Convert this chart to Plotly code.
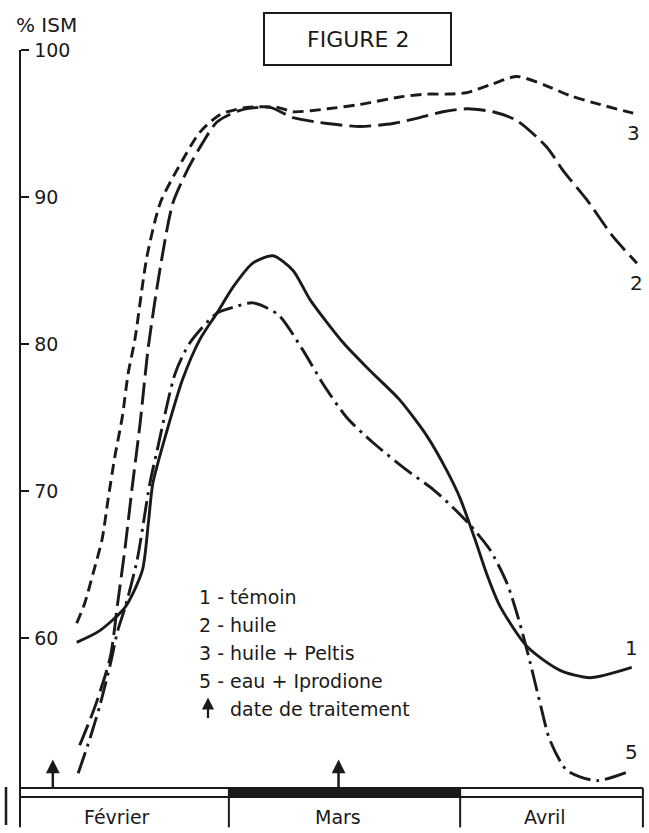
import plotly.graph_objects as go

# ---- data (x = days since 1 February, y = % ISM) ----
c1_x = [7.6, 10.7, 14.1, 16.4, 17.2, 17.8, 19.7, 21.8, 24.1, 26.4, 28.6, 31.2, 33.9, 36.6, 38.9,
        43.3, 46.9, 50.9, 54.6, 57.2, 59.0, 61.0, 62.6, 64.3, 68.0, 72.4, 76.4, 82.0]
c1_y = [59.7, 60.5, 62.1, 64.6, 67.8, 70.5, 74.1, 77.6, 80.3, 82.1, 83.9, 85.5, 86.0, 85.0, 83.0,
        80.1, 78.2, 76.2, 73.7, 71.4, 69.5, 66.7, 64.3, 62.2, 59.4, 57.8, 57.3, 58.0]

c2_x = [8.0, 10.1, 12.1, 13.1, 14.1, 15.0, 16.1, 17.2, 18.8, 20.5, 22.4, 24.5, 26.4, 29.5, 33.5,
        36.6, 41.2, 45.6, 50.0, 53.6, 56.7, 59.9, 63.4, 66.6, 70.6, 72.8, 76.0, 79.5, 82.7]
c2_y = [52.7, 55.4, 58.7, 62.4, 66.2, 70.1, 74.6, 79.8, 85.2, 89.6, 91.8, 93.7, 95.1, 95.9, 96.1,
        95.4, 95.0, 94.8, 95.0, 95.4, 95.8, 96.0, 95.8, 95.2, 93.4, 91.8, 89.8, 87.3, 85.5]

c3_x = [7.6, 8.7, 9.8, 11.0, 11.8, 12.7, 13.7, 14.5, 15.4, 17.0, 18.8, 21.0, 24.1, 26.8, 30.4,
        34.5, 36.6, 41.2, 45.6, 50.9, 54.6, 57.2, 59.9, 63.4, 66.6, 70.4, 73.7, 77.7, 82.2]
c3_y = [61.0, 62.4, 64.4, 66.7, 69.4, 72.3, 75.0, 78.0, 80.3, 85.9, 89.6, 91.8, 94.4, 95.6, 96.1,
        96.1, 95.8, 96.0, 96.3, 96.8, 97.0, 97.0, 97.1, 97.7, 98.2, 97.6, 96.9, 96.3, 95.7]

c5_x = [7.8, 9.4, 10.7, 12.1, 13.1, 14.1, 15.7, 17.4, 18.4, 20.8, 22.8, 26.4, 28.6, 31.2, 34.6,
        37.9, 40.6, 43.8, 47.3, 51.9, 55.4, 58.0, 60.3, 63.0, 65.3, 67.0, 68.4, 69.7, 71.0, 73.3,
        77.3, 82.0]
c5_y = [50.8, 53.2, 55.4, 58.2, 60.5, 62.1, 65.3, 70.5, 72.8, 78.0, 80.1, 82.1, 82.5, 82.8, 82.0,
        79.6, 77.3, 75.0, 73.3, 71.4, 70.1, 68.9, 67.7, 66.0, 63.7, 61.0, 58.3, 55.6, 53.1, 51.0,
        50.3, 51.0]

curve_ids = ["1", "2", "3", "5"]
legend_labels = ["1 - témoin", "2 - huile", "3 - huile + Peltis", "5 - eau + Iprodione"]
treatment_label = "date de traitement"
treatment_days = [4.4, 42.7]

months = ["Février", "Mars", "Avril"]
month_starts = [0, 28, 59]
period_end = 83.5

y_ticks = [60, 70, 80, 90, 100]
y_title = "% ISM"
fig_title = "FIGURE 2"

# ---- layout geometry ----
W, H = 649, 833
M_T, M_B = 35, 8
Y100_PX = 50
PX_PER_DAY = 7.46
PX_PER_UNIT = 14.7
X0_PX = 20
x_range = [-X0_PX / PX_PER_DAY, (W - X0_PX) / PX_PER_DAY]
y_top = 100 + (Y100_PX - M_T) / PX_PER_UNIT
y_range = [y_top - (H - M_T - M_B) / PX_PER_UNIT, y_top]
band_top = 100 - (788 - Y100_PX) / PX_PER_UNIT
band_bot = 100 - (797 - Y100_PX) / PX_PER_UNIT


def px(xp):
    return xp / W


def py(yp):
    return (H - M_B - yp) / (H - M_T - M_B)


FONT = "DejaVu Sans, Verdana, sans-serif"
INK = "#1a1a1a"

fig = go.Figure()
styles = {
    "1": "solid",
    "2": "22px,7px",
    "3": "11px,6px",
    "5": "22px,6px,3px,6px",
}
series = {"1": (c1_x, c1_y), "2": (c2_x, c2_y), "3": (c3_x, c3_y), "5": (c5_x, c5_y)}
for cid in curve_ids:
    xs, ys = series[cid]
    fig.add_trace(go.Scatter(
        x=xs, y=ys, mode="lines", name=cid,
        line=dict(color=INK, width=2.9, dash=styles[cid], shape="spline", smoothing=0.7),
        showlegend=False, hoverinfo="skip",
    ))

shapes = []
# vertical value axis line (from 100 down to the bottom)
shapes.append(dict(type="line", xref="x", yref="paper", x0=0, x1=0, y0=-0.003,
                   y1=(max(y_ticks) - y_range[0]) / (y_range[1] - y_range[0]),
                   line=dict(color=INK, width=2)))
# time band
shapes.append(dict(type="rect", xref="x", yref="y", x0=month_starts[1], x1=month_starts[2],
                   y0=band_bot, y1=band_top, fillcolor=INK, line=dict(width=0)))
for yy in (band_top, band_bot):
    shapes.append(dict(type="line", xref="x", yref="y", x0=0, x1=period_end, y0=yy, y1=yy,
                       line=dict(color=INK, width=2)))
for xx in month_starts[1:] + [period_end]:
    shapes.append(dict(type="line", xref="x", yref="paper", x0=xx, x1=xx, y0=-0.003,
                       y1=(band_top - y_range[0]) / (y_range[1] - y_range[0]),
                       line=dict(color=INK, width=2)))
# small fragment at far left
shapes.append(dict(type="line", xref="paper", yref="paper", x0=px(6), x1=px(6), y0=py(787), y1=py(825),
                   line=dict(color=INK, width=2.5)))
# FIGURE 2 box
shapes.append(dict(type="rect", xref="paper", yref="paper", x0=px(264), x1=px(451), y0=py(13), y1=py(65),
                   line=dict(color=INK, width=2), fillcolor="rgba(0,0,0,0)"))

ann = []
# month labels
bounds = month_starts + [period_end]
for i, m in enumerate(months):
    ann.append(dict(x=(bounds[i] + bounds[i + 1]) / 2, y=0, xref="x", yref="paper", yanchor="middle",
                    yshift=-(817 - (H - M_B)), xshift=-7, text=m, showarrow=False,
                    font=dict(family=FONT, size=19, color=INK)))
# treatment arrows
for d in treatment_days:
    ann.append(dict(x=d, y=band_top, xref="x", yref="y", ax=0, ay=-30, axref="pixel", ayref="pixel",
                    text="", showarrow=True, arrowhead=0, arrowwidth=2.5, arrowcolor=INK,
                    startarrowhead=2, arrowside="start", startarrowsize=1.1))
# curve end labels
label_shift = {"1": 19, "2": -20, "3": -20, "5": 18}
for cid in curve_ids:
    xs, ys = series[cid]
    ann.append(dict(x=xs[-1], y=ys[-1], xref="x", yref="y", text=cid, showarrow=False,
                    yanchor="middle", yshift=label_shift[cid],
                    font=dict(family=FONT, size=20, color=INK)))
# legend text
for i, lab in enumerate(legend_labels):
    ann.append(dict(x=px(197), y=py(597 + 28 * i), xref="paper", yref="paper", xanchor="left",
                    yanchor="middle", text=lab, showarrow=False,
                    font=dict(family=FONT, size=19, color=INK)))
ann.append(dict(x=px(228), y=py(709), xref="paper", yref="paper", xanchor="left", yanchor="middle",
                text=treatment_label, showarrow=False, font=dict(family=FONT, size=19, color=INK)))
ann.append(dict(x=px(208), y=py(718), xref="paper", yref="paper", ax=0, ay=-22, text="",
                showarrow=True, arrowhead=0, arrowwidth=2.2, arrowcolor=INK,
                startarrowhead=2, arrowside="start", startarrowsize=1.1))
# titles
ann.append(dict(x=px(46), y=py(25), xref="paper", yref="paper", text=y_title, showarrow=False,
                xanchor="center", yanchor="middle", font=dict(family=FONT, size=20, color=INK)))
ann.append(dict(x=px(357.5), y=py(39), xref="paper", yref="paper", text=fig_title, showarrow=False,
                xanchor="center", yanchor="middle", font=dict(family=FONT, size=22, color=INK)))

fig.update_layout(
    width=W, height=H,
    margin=dict(l=0, r=0, t=M_T, b=M_B),
    paper_bgcolor="white", plot_bgcolor="white",
    xaxis=dict(range=x_range, visible=False, fixedrange=True),
    yaxis=dict(range=y_range, anchor="free", position=X0_PX / W, showline=False,
               ticks="inside", ticklen=8, tickwidth=2, tickcolor=INK,
               tickvals=y_ticks, ticklabelposition="inside", ticklabelstandoff=6,
               showgrid=False, zeroline=False,
               tickfont=dict(family=FONT, size=19, color=INK), fixedrange=True),
    shapes=shapes, annotations=ann,
)

fig.write_html("out.html", config={"displayModeBar": False},
               post_script="document.body.style.margin='0';document.body.style.overflow='hidden';")
